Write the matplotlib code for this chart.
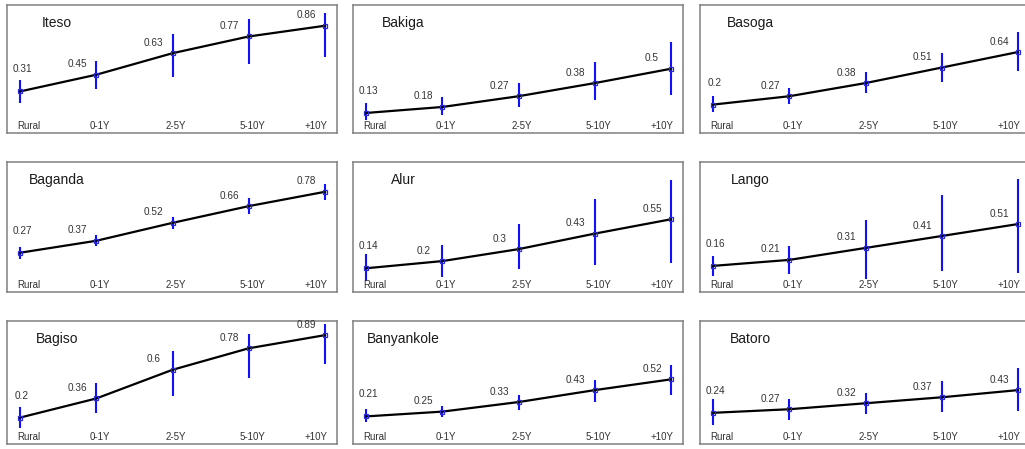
import matplotlib.pyplot as plt
from matplotlib.transforms import blended_transform_factory

plt.rcParams['font.family'] = ['Liberation Sans', 'DejaVu Sans']

# Categories (years of residence) and group names
categories = ['Rural', '0-1Y', '2-5Y', '5-10Y', '+10Y']
groups = ['Iteso', 'Bakiga', 'Basoga', 'Baganda', 'Alur', 'Lango',
          'Bagiso', 'Banyankole', 'Batoro']

# Mean values per group
iteso = [0.31, 0.45, 0.63, 0.77, 0.86]
bakiga = [0.13, 0.18, 0.27, 0.38, 0.5]
basoga = [0.2, 0.27, 0.38, 0.51, 0.64]
baganda = [0.27, 0.37, 0.52, 0.66, 0.78]
alur = [0.14, 0.2, 0.3, 0.43, 0.55]
lango = [0.16, 0.21, 0.31, 0.41, 0.51]
bagiso = [0.2, 0.36, 0.6, 0.78, 0.89]
banyankole = [0.21, 0.25, 0.33, 0.43, 0.52]
batoro = [0.24, 0.27, 0.32, 0.37, 0.43]

# Confidence interval: distance below / above each mean
iteso_lo = [0.10, 0.12, 0.195, 0.23, 0.26]
iteso_hi = [0.095, 0.115, 0.16, 0.15, 0.105]
bakiga_lo = [0.055, 0.063, 0.093, 0.145, 0.22]
bakiga_hi = [0.082, 0.08, 0.107, 0.175, 0.22]
basoga_lo = [0.064, 0.061, 0.083, 0.12, 0.16]
basoga_hi = [0.07, 0.07, 0.09, 0.12, 0.17]
baganda_lo = [0.05, 0.045, 0.053, 0.062, 0.067]
baganda_hi = [0.05, 0.045, 0.045, 0.067, 0.064]
alur_lo = [0.11, 0.13, 0.17, 0.26, 0.37]
alur_hi = [0.12, 0.135, 0.21, 0.29, 0.325]
lango_lo = [0.086, 0.12, 0.256, 0.29, 0.41]
lango_hi = [0.086, 0.12, 0.23, 0.34, 0.38]
bagiso_lo = [0.09, 0.123, 0.22, 0.25, 0.24]
bagiso_hi = [0.092, 0.13, 0.16, 0.12, 0.092]
banyankole_lo = [0.05, 0.048, 0.064, 0.096, 0.128]
banyankole_hi = [0.062, 0.05, 0.06, 0.085, 0.12]
batoro_lo = [0.106, 0.086, 0.092, 0.12, 0.172]
batoro_hi = [0.118, 0.086, 0.09, 0.138, 0.187]

means = [iteso, bakiga, basoga, baganda, alur, lango, bagiso, banyankole, batoro]
lows = [iteso_lo, bakiga_lo, basoga_lo, baganda_lo, alur_lo, lango_lo,
        bagiso_lo, banyankole_lo, batoro_lo]
highs = [iteso_hi, bakiga_hi, basoga_hi, baganda_hi, alur_hi, lango_hi,
         bagiso_hi, banyankole_hi, batoro_hi]

W, H = 1025, 449
fig = plt.figure(figsize=(W / 100, H / 100), dpi=100)

# panel layout in pixels
col_left = [7, 353, 700]
panel_w = 330
rows = [(5, 133), (162, 292), (321, 444)]
zero_px = [128.5, 285, 441.5]
ppu = 119.5      # pixels per unit on the y axis
step = 76.25     # pixels between categories

x = list(range(len(categories)))

for i, (name, vals) in enumerate(zip(groups, means)):
    r, c = divmod(i, 3)
    top, bot = rows[r]
    ax = fig.add_axes([col_left[c] / W, 1 - bot / H, panel_w / W, (bot - top) / H])
    ax.set_ylim(-(bot - zero_px[r]) / ppu, (zero_px[r] - top) / ppu)
    ax.set_xlim(-13 / step, (panel_w - 13) / step)
    ax.set_xticks([])
    ax.set_yticks([])
    for s in ax.spines.values():
        s.set_color('#808080')
        s.set_linewidth(1.1)

    ax.errorbar(x, vals, yerr=[lows[i], highs[i]], fmt='none', ecolor='#1010ff',
                elinewidth=1.5, capsize=0, zorder=2)
    ax.plot(x, vals, color='black', lw=1.6, zorder=3)
    ax.plot(x, vals, ls='none', marker='s', ms=3.5, mfc='none',
            mec='#2a2ad0', mew=0.9, zorder=4)

    # value labels
    for j, v in enumerate(vals):
        off = (2, 22) if j == 0 else (-19, 10.5)
        ax.annotate(f'{v:g}', xy=(j, v), xytext=off, textcoords='offset pixels',
                    ha='center', va='center', fontsize=7.2, color='#333333')

    # category labels along the bottom
    trans = blended_transform_factory(ax.transData, ax.transAxes)
    for j, cat in enumerate(categories):
        if j == 0:
            ha, dx = 'left', -3
        elif j == len(categories) - 1:
            ha, dx = 'right', 3
        else:
            ha, dx = 'center', 3.5
        ax.annotate(cat, xy=(j, 0), xycoords=trans, xytext=(dx, 2),
                    textcoords='offset pixels', ha=ha, va='bottom',
                    fontsize=7, color='#333333')

    ax.annotate(name, xy=(50 / panel_w, 1), xycoords='axes fraction',
                xytext=(0, -18), textcoords='offset pixels',
                ha='center', va='center', fontsize=10, color='#1a1a1a')

fig.savefig('out.png', dpi=100)
